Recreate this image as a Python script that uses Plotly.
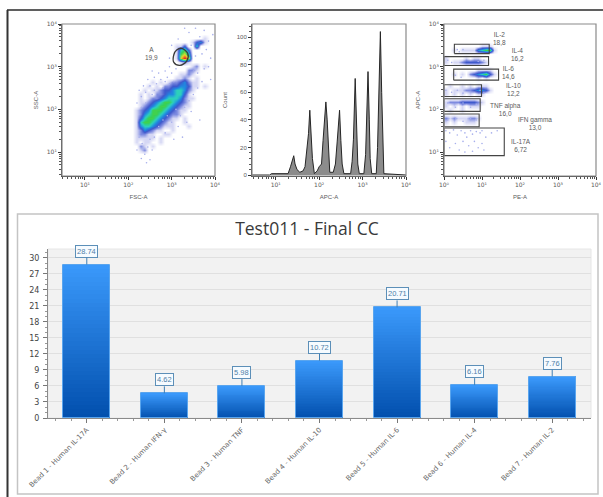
import numpy as np
import plotly.graph_objects as go

W, H = 603, 497

# ---------- bar chart data ----------
categories = ["Bead 1 - Human IL-17A", "Bead 2 - Human IFN-γ", "Bead 3 - Human TNF", "Bead 4 - Human IL-10",
              "Bead 5 - Human IL-6", "Bead 6 - Human IL-4", "Bead 7 - Human IL-2"]
values = [28.74, 4.62, 5.98, 10.72, 20.71, 6.16, 7.76]
value_ticks = [0, 3, 6, 9, 12, 15, 18, 21, 24, 27, 30]
decade_labels = {0: "10⁰", 1: "10¹", 2: "10²", 3: "10³", 4: "10⁴"}

# ---------- FSC/SSC density (0 empty .. 9 peak), top row first ----------
fsc_ssc_density = [
    "000000000000000000000", "000000000000000000000", "000000000000000000000", "000000000000000000100",
    "000000000000000134100", "000000000001130050000", "000000000001563000000", "000000000001675000000",
    "000000000001797000000", "000000000000121000000", "000000000000000120100", "000000000000002210000",
    "000000000000112100000", "000000000001121010000", "000001010122342110000", "000010102233443110100",
    "000101123345542100000", "001010223445531000000", "001012234555421100000", "001123456654321000000",
    "001234566543211000000", "012346665432110000000", "012456654322100000000", "013566543211010000000",
    "015665432110010000000", "014554321110001000000", "012432110010000000000", "012211001100000000000",
    "011111010000000000000", "010110010000000000000", "002101000000000000000", "001200000000000000000",
    "000000000000000000000", "000000000000000000000", "000000000000000000000", "000000000000000000000",
    "000000000000000000000", "000000000000000000000",
]
fsc_sparse_x = [2.25, 2.3, 2.35, 2.4, 2.45, 2.5, 2.55, 2.6, 2.65, 2.7, 2.75, 2.8, 2.85, 2.9, 2.95, 3.0, 3.05, 2.55,
                2.4, 2.2, 2.3, 2.6, 2.85, 3.1, 2.95, 2.7, 2.8, 2.9, 3.0, 3.1, 3.15, 3.2, 3.3, 3.4, 3.5, 3.6, 3.65,
                3.25, 3.05, 2.6, 2.85, 3.45, 3.35, 2.2, 2.3, 2.38, 2.42, 2.5, 2.32, 2.45, 2.55, 2.25, 2.5, 3.4, 3.55,
                3.65, 3.75, 3.85, 3.95, 3.7, 3.8, 3.9, 3.55, 3.45, 3.6, 3.75, 3.85, 3.9, 3.5, 3.7, 3.0, 2.95, 3.15,
                3.3]
fsc_sparse_y = [2.45, 2.3, 2.55, 2.4, 2.7, 2.55, 2.35, 2.75, 2.6, 2.85, 2.7, 2.5, 2.9, 2.75, 3.0, 2.85, 2.65, 2.9,
                2.15, 2.15, 2.05, 2.45, 2.65, 2.95, 2.6, 1.6, 1.75, 1.85, 1.7, 2.0, 1.6, 1.85, 2.05, 2.2, 2.35, 2.5,
                1.75, 1.35, 1.3, 1.35, 1.45, 1.95, 1.7, 1.05, 0.85, 0.95, 0.75, 0.82, 1.2, 1.12, 1.05, 1.35, 1.3, 3.8,
                3.9, 3.7, 3.85, 3.6, 3.75, 3.3, 3.4, 3.2, 3.25, 3.5, 2.85, 2.95, 3.0, 2.7, 2.9, 2.65, 3.5, 3.2, 3.65,
                3.9]
gate_a_logx = [3.23, 3.37, 3.35, 3.19, 3.05, 3.05, 3.115, 3.23]
gate_a_logy = [3.43, 3.315, 3.136, 3.03, 3.10, 3.28, 3.39, 3.43]

# ---------- APC histogram ----------
apc_logx = [0.454, 0.862, 0.90, 1.015, 1.285, 1.34, 1.385, 1.415, 1.445, 1.49, 1.555, 1.63, 1.675, 1.72, 1.755,
            1.785, 1.81, 1.845, 1.89, 1.955, 2.0, 2.055, 2.09, 2.13, 2.155, 2.185, 2.215, 2.245, 2.325, 2.375,
            2.415, 2.47, 2.5, 2.53, 2.57, 2.725, 2.76, 2.79, 2.83, 2.86, 2.89, 2.925, 3.03, 3.07, 3.10, 3.125,
            3.155, 3.175, 3.21, 3.315, 3.345, 3.375, 3.41, 3.44, 3.47, 3.49, 4.0]
apc_count = [0, 0, 1, 1, 1, 6, 10, 14, 8, 4, 2, 3, 6, 22, 30, 47, 30, 12, 1, 3, 6, 8, 25, 45, 53, 40, 15, 2, 2, 8,
             24, 47, 25, 8, 1, 1, 10, 26, 70, 30, 8, 1, 1, 15, 40, 75, 40, 12, 1, 1, 20, 60, 104, 60, 18, 1, 0]

# ---------- PE/APC density and gates ----------
pe_apc_density = [
    "0000000000000000", "0000000000000000", "0000000000000000", "0000000000000000", "0000000000000000",
    "0000000001110000", "0010111145661000", "0000000000000000", "1000010110000000", "1011233332100000",
    "0000000000000000", "0000000011110000", "0010102345631000", "0000000010100000", "0000000000000000",
    "0100101011100000", "1011122344310000", "1010101011000000", "0000000000000000", "1222333321000000",
    "1010101110000000", "0100100000000000", "0000000000000000", "2121112210000000", "1010011100000000",
    "0000000000000000", "0000000000000000", "0000000000000000", "0000000000000000", "0000000000000000",
    "0000000000000000", "0000000000000000", "0000000000000000", "0000000000000000", "0000000000000000",
    "0000000000000000", "0000000000000000", "0000000000000000",
]
pe_sparse_x = [0.05, 0.15, 0.25, 0.35, 0.45, 0.55, 0.6, 0.7, 0.75, 0.85, 0.95, 1.0, 1.1, 1.25, 1.4, 0.3, 0.5, 0.65,
               0.8, 0.9, 1.0, 0.4, 0.55, 0.75, 1.05, 0.15, 0.05, 0.35, 0.4, 0.5, 0.1, 0.2, 0.9, 1.05, 0.1, 0.3, 0.5,
               0.7, 0.85, 0.1, 0.3, 0.5, 0.7, 0.85, 0.05, 0.2, 0.35, 0.5, 0.95, 1.05, 0.3, 0.45]
pe_sparse_y = [1.5, 1.45, 1.52, 1.4, 1.5, 1.45, 1.35, 1.5, 1.42, 1.48, 1.45, 1.5, 1.35, 1.45, 1.5, 1.2, 1.25, 1.15,
               1.25, 1.1, 1.2, 1.05, 1.0, 1.02, 1.05, 1.1, 1.25, 3.4, 3.35, 3.4, 3.15, 3.1, 3.12, 3.15, 1.75, 1.8,
               1.72, 1.78, 1.75, 2.15, 2.05, 2.15, 2.05, 2.12, 2.45, 2.4, 2.45, 2.38, 2.45, 2.4, 2.8, 2.75]
gate_names = ["IL-2", "IL-4", "IL-6", "IL-10", "TNF alpha", "IFN gamma", "IL-17A"]
gate_percent = ["18,8", "16,2", "14,6", "12,2", "16,0", "13,0", "6,72"]
gate_x0 = [0.273, 0, 0.255, 0, 0, 0, 0]
gate_x1 = [1.19, 1.172, 1.436, 0.987, 0.952, 0.925, 1.586]
gate_y0 = [3.307, 3.027, 2.685, 2.303, 1.953, 1.595, 0.918]
gate_y1 = [3.525, 3.237, 2.942, 2.576, 2.249, 1.891, 1.564]
gate_label_x = [1.47, 1.94, 1.71, 1.84, 1.63, 2.405, 2.035]
gate_label_y = [3.67, 3.28, 2.86, 2.47, 2.0, 1.66, 1.15]


def px(x):
    return x / W


def py(y):
    return 1 - y / H


FLOW_TEXT = "#5a5a5a"
FLOW_FONT = dict(family="Liberation Sans", size=6, color=FLOW_TEXT)
TICK_FONT = dict(family="DejaVu Sans", size=6, color=FLOW_TEXT)
density_scale = [[0, "#ffffff"], [0.11, "#d6d8f4"], [0.22, "#7f8ce0"], [0.33, "#3f58cc"], [0.44, "#2086e0"],
                 [0.55, "#2cd0c0"], [0.66, "#38d050"], [0.78, "#dfe030"], [0.88, "#f08020"], [1, "#e02020"]]
decade_minor = [m * 10.0 ** d for d in range(0, 4) for m in range(2, 10)]


def log_axis(domain, anchor, lo, hi, title="", standoff=6):
    powers = list(range(int(np.ceil(lo)), 5))
    vals = [10 ** d for d in powers]
    txt = [decade_labels[d] for d in powers]
    return dict(domain=domain, anchor=anchor, type="log", range=[lo, hi], tickmode="array", tickvals=vals, ticktext=txt,
                automargin=False, ticks="outside", ticklen=3, tickwidth=1, tickcolor="#333", showgrid=False,
                zeroline=False, showline=True, linecolor="#444", linewidth=1, tickfont=TICK_FONT,
                title=dict(text=title, font=FLOW_FONT, standoff=standoff),
                minor=dict(tickmode="array", tickvals=[v for v in decade_minor if lo < np.log10(v) < hi],
                           ticks="outside", ticklen=2, tickwidth=0.7, tickcolor="#555", showgrid=False))


fig = go.Figure()


def grid_centers(lo, hi, n):
    return lo + (np.arange(n) + 0.5) * (hi - lo) / n


SPECK = dict(color="#a7afec", size=1.6, line=dict(width=0))

# ---- panel 1
rows = [[int(ch) for ch in r] for r in fsc_ssc_density]
xc = grid_centers(0.47, 4, 38)[17:38]
yc = grid_centers(0.44, 4, 38)[::-1]
fig.add_trace(go.Heatmap(z=rows, x=10 ** xc, y=10 ** yc, zmin=0, zmax=9, colorscale=density_scale, showscale=False,
                         zsmooth="best", xaxis="x", yaxis="y", hoverinfo="skip"))
fig.add_trace(go.Scatter(x=10 ** np.array(fsc_sparse_x), y=10 ** np.array(fsc_sparse_y), mode="markers", marker=SPECK,
                         xaxis="x", yaxis="y", showlegend=False, hoverinfo="skip"))
fig.add_trace(go.Scatter(x=10 ** np.array(gate_a_logx), y=10 ** np.array(gate_a_logy), mode="lines",
                         line=dict(color="#3a3a3a", width=1.3, shape="spline", smoothing=1), xaxis="x", yaxis="y",
                         showlegend=False, hoverinfo="skip"))

# ---- panel 2
fig.add_trace(go.Scatter(x=10 ** np.array(apc_logx), y=apc_count, mode="lines", fill="tozeroy", fillcolor="#8c8c8c",
                         line=dict(color="#262626", width=1), xaxis="x2", yaxis="y2", showlegend=False,
                         hoverinfo="skip"))

# ---- panel 3
rows3 = [[int(ch) for ch in r] for r in pe_apc_density]
xc3 = grid_centers(0, 4, 38)[:16]
fig.add_trace(go.Heatmap(z=rows3, x=10 ** xc3, y=10 ** yc, zmin=0, zmax=9, colorscale=density_scale, showscale=False,
                         zsmooth="best", xaxis="x3", yaxis="y3", hoverinfo="skip"))
fig.add_trace(go.Scatter(x=10 ** np.array(pe_sparse_x), y=10 ** np.array(pe_sparse_y), mode="markers", marker=SPECK,
                         xaxis="x3", yaxis="y3", showlegend=False, hoverinfo="skip"))
for x0, x1, y0, y1 in zip(gate_x0, gate_x1, gate_y0, gate_y1):
    fig.add_trace(go.Scatter(x=10 ** np.array([x0, x1, x1, x0, x0]), y=10 ** np.array([y0, y0, y1, y1, y0]),
                             mode="lines", line=dict(color="#444", width=1.1), xaxis="x3", yaxis="y3",
                             showlegend=False, hoverinfo="skip"))

# ---- bar chart, gradient built as stacked slices of each bar
N = 36
top, bottom = np.array([0x3a, 0x98, 0xfa]), np.array([0x02, 0x50, 0xae])
vals = np.array(values)
idx = list(range(len(categories)))
BAR_W = 0.606
for k in range(N):
    t = k / (N - 1)
    c = bottom + (top - bottom) * t
    fig.add_trace(go.Bar(x=idx, y=vals / N, base=vals * k / N, width=BAR_W, xaxis="x4", yaxis="y4",
                         marker=dict(color=f"rgb({c[0]:.0f},{c[1]:.0f},{c[2]:.0f})", line=dict(width=0)),
                         showlegend=False, hoverinfo="skip"))
fig.add_trace(go.Bar(x=idx, y=vals, width=BAR_W, xaxis="x4", yaxis="y4",
                     marker=dict(color="rgba(0,0,0,0)", line=dict(color="#5aa5ee", width=1)),
                     showlegend=False, hovertemplate="%{y}<extra></extra>"))

annotations = [dict(x=2.54, y=3.315, xref="x", yref="y", text="A<br>19,9", showarrow=False, font=dict(FLOW_FONT, size=6.5))]
for n, p, x, y in zip(gate_names, gate_percent, gate_label_x, gate_label_y):
    annotations.append(dict(x=x, y=y, xref="x3", yref="y3", text=f"{n}<br>{p}", showarrow=False,
                            font=dict(FLOW_FONT, size=6.5)))
for i, v in zip(idx, values):
    annotations.append(dict(x=i, y=v, xref="x4", yref="y4", text=f"{v:.2f}", showarrow=True, arrowhead=0, arrowwidth=1,
                            arrowcolor="#3f7fb5", ax=0, ay=-7, yanchor="bottom", axref="pixel", ayref="pixel",
                            bgcolor="#f6fbff", bordercolor="#5c8fb8",
                            borderwidth=1, borderpad=1, standoff=0,
                            font=dict(family="Liberation Sans", size=7.5, color="#4f7fa8")))

shapes = [
    # outer frame of the screenshot
    dict(type="line", xref="paper", yref="paper", x0=px(7), x1=px(603), y0=py(10), y1=py(10),
         line=dict(color="#5f5f5f", width=2)),
    dict(type="line", xref="paper", yref="paper", x0=px(7.5), x1=px(7.5), y0=py(10), y1=0,
         line=dict(color="#333", width=2)),
    # chart panel
    dict(type="rect", xref="paper", yref="paper", x0=px(17.5), x1=px(598), y0=py(214), y1=py(494),
         line=dict(color="#c4c4c4", width=1.5), layer="below"),
]
for x0, x1 in [(62, 215), (252, 406), (444, 596)]:
    shapes.append(dict(type="rect", xref="paper", yref="paper", x0=px(x0), x1=px(x1), y0=py(176), y1=py(24),
                       line=dict(color="#8a8a8a", width=1.2)))

fig.update_layout(
    width=W, height=H, autosize=False, margin=dict(l=0, r=0, t=0, b=0, autoexpand=False),
    paper_bgcolor="white", plot_bgcolor="white", barmode="overlay", bargap=0,
    shapes=shapes, annotations=annotations,
    title=dict(text="Test011 - Final CC", x=307 / W, xanchor="center", y=py(229), yanchor="middle",
               font=dict(family="Open Sans", size=17.5, color="#3a3a3a")),
    xaxis=log_axis([px(62), px(215)], "y", 0.47, 4, "FSC-A", 7),
    yaxis=log_axis([py(176), py(24)], "x", 0.44, 4, "SSC-A", 7),
    xaxis2=log_axis([px(252), px(406)], "y2", 0.454, 4, "APC-A", 7),
    yaxis2=dict(domain=[py(176), py(24)], anchor="x2", range=[-0.7, 109.5], tickmode="array", automargin=False,
                tickvals=[0, 20, 40, 60, 80, 100], ticks="outside", ticklen=3, tickcolor="#333", showgrid=False,
                zeroline=False, showline=True, linecolor="#444", tickfont=FLOW_FONT,
                title=dict(text="Count", font=FLOW_FONT, standoff=8),
                minor=dict(dtick=4, ticks="outside", ticklen=2, tickcolor="#555", showgrid=False)),
    xaxis3=log_axis([px(444), px(596)], "y3", 0, 4, "PE-A", 7),
    yaxis3=log_axis([py(176), py(24)], "x3", 0.44, 4, "APC-A", 7),
    xaxis4=dict(domain=[px(48), px(591)], anchor="y4", range=[-0.5, 6.5], tickmode="array", tickvals=idx,
                ticktext=categories, tickangle=-45, ticks="outside", ticklen=4, tickcolor="#777", showgrid=False,
                zeroline=False, showline=True, linecolor="#8a8a8a", automargin=False,
                tickfont=dict(family="DejaVu Sans", size=7, color="#666"),
                minor=dict(dtick=0.2, tick0=0, ticks="outside", ticklen=2, tickcolor="#999", showgrid=False)),
    yaxis4=dict(domain=[py(418), py(249)], anchor="x4", range=[0, 31.65], tickmode="array", tickvals=value_ticks,
                ticks="outside", ticklen=4, tickcolor="#777", gridcolor="#e0e0e0", gridwidth=1, zeroline=False,
                showline=True, linecolor="#8a8a8a", automargin=False, ticklabelstandoff=2,
                tickfont=dict(family="DejaVu Sans", size=8, color="#444"),
                minor=dict(dtick=1, ticks="outside", ticklen=2, tickcolor="#999", showgrid=False)),
)
# plot-area tint of the chart only
fig.add_shape(type="rect", xref="x4 domain", yref="y4 domain", x0=0, x1=1, y0=0, y1=1, fillcolor="#f2f2f2",
              line=dict(width=1, color="#e6e6e6"), layer="below")

fig.write_html("out.html", post_script="document.body.style.margin='0';", config=dict(displayModeBar=False))
